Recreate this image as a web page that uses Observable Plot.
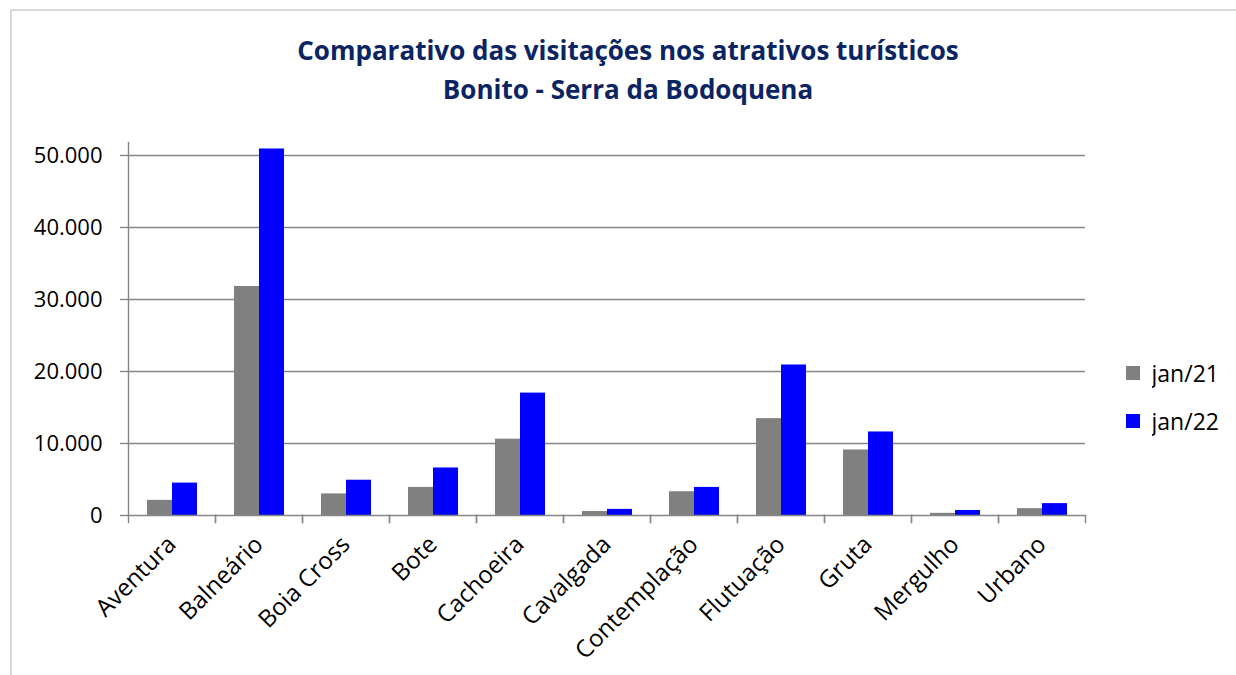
<!DOCTYPE html>
<html><head><meta charset="utf-8">
<script src="https://cdn.jsdelivr.net/npm/d3@7"></script>
<script src="https://cdn.jsdelivr.net/npm/@observablehq/plot@0.6"></script>
<style>
html,body{margin:0;padding:0;background:#fff;}
#wrap{position:relative;width:1236px;height:675px;overflow:hidden;font-family:"Open Sans",sans-serif;}
#border{position:absolute;left:10px;top:9px;width:1400px;height:900px;border:2px solid #d9d9d9;box-sizing:border-box;}
.tl{position:absolute;left:10px;width:1236px;text-align:center;font-weight:700;font-size:26px;line-height:32px;color:#0b2462;white-space:nowrap;}
#chart{position:absolute;left:0;top:120px;}
#legend{position:absolute;left:1126px;top:358px;}
.lg-swatch{padding-bottom:18px !important;line-height:30px;}
</style>
</head><body>
<div id="wrap">
  <div id="border"></div>
  <div class="tl" id="t1" style="top:34px"></div>
  <div class="tl" id="t2" style="top:73px"></div>
  <div id="chart"></div>
  <div id="legend"></div>
</div>
<script>
const titleLines = ["Comparativo das visitações nos atrativos turísticos", "Bonito - Serra da Bodoquena"];
const categories = ["Aventura","Balneário","Boia Cross","Bote","Cachoeira","Cavalgada","Contemplação","Flutuação","Gruta","Mergulho","Urbano"];
const seriesNames = ["jan/21","jan/22"];
const jan21 = [2100, 31800, 3000, 3900, 10600, 550, 3300, 13450, 9100, 300, 950];
const jan22 = [4500, 50900, 4900, 6600, 17000, 850, 3900, 20900, 11600, 700, 1650];
const yTicks = [0, 10000, 20000, 30000, 40000, 50000];
const seriesColors = ["#808080", "#0000ff"];

document.getElementById("t1").textContent = titleLines[0];
document.getElementById("t2").textContent = titleLines[1];

const data = categories.flatMap((c, i) => [
  {category: c, series: seriesNames[0], value: jan21[i]},
  {category: c, series: seriesNames[1], value: jan22[i]}
]);

const ptBR = d3.formatLocale({decimal: ",", thousands: ".", grouping: [3], currency: ["R$", ""]});
const fmt = ptBR.format(",d");

const W = 1236, H = 555, mT = 22, mB = 160, mL = 127, mR = 151;
const innerH = H - mT - mB;
const axisColor = "#868686";

const plot = Plot.plot({
  width: W, height: H,
  marginLeft: mL, marginRight: mR, marginTop: mT, marginBottom: mB,
  style: {fontFamily: '"Open Sans", sans-serif', fontSize: "22px", color: "#000", background: "transparent", overflow: "visible"},
  fx: {domain: categories, padding: 0, label: null},
  x: {domain: seriesNames, paddingInner: 0, paddingOuter: 0.74, axis: null},
  y: {domain: [0, 51800], axis: null},
  color: {domain: seriesNames, range: seriesColors},
  marks: [
    Plot.gridY(yTicks.slice(1), {stroke: axisColor, strokeOpacity: 1, strokeWidth: 1.4}),
    Plot.barY(data, {fx: "category", x: "series", y: "value", fill: "series"}),
    Plot.ruleY([0], {stroke: axisColor, strokeWidth: 1.4}),
    Plot.frame({anchor: "left", facetAnchor: "left", stroke: axisColor, strokeWidth: 1.4}),
    Plot.frame({anchor: "left", insetTop: innerH, insetBottom: -7, stroke: axisColor, strokeWidth: 1.4}),
    Plot.frame({anchor: "right", insetTop: innerH, insetBottom: -7, stroke: axisColor, strokeWidth: 1.4}),
    Plot.axisY(yTicks, {anchor: "left", tickSize: 8, tickPadding: 18, tickFormat: fmt, stroke: axisColor, strokeWidth: 1.4, fontSize: 22, label: null}),
    Plot.axisFx({anchor: "bottom", tickSize: 0, tickRotate: -45, tickPadding: 25, fontSize: 24, label: null})
  ]
});
document.getElementById("chart").appendChild(plot);

const leg = plot.legend("color", {legend: "swatches", columns: 1, swatchSize: 14, className: "lg",
  style: {fontFamily: '"Open Sans", sans-serif', fontSize: "23px", color: "#000"}});
document.getElementById("legend").appendChild(leg);
</script>
</body></html>
